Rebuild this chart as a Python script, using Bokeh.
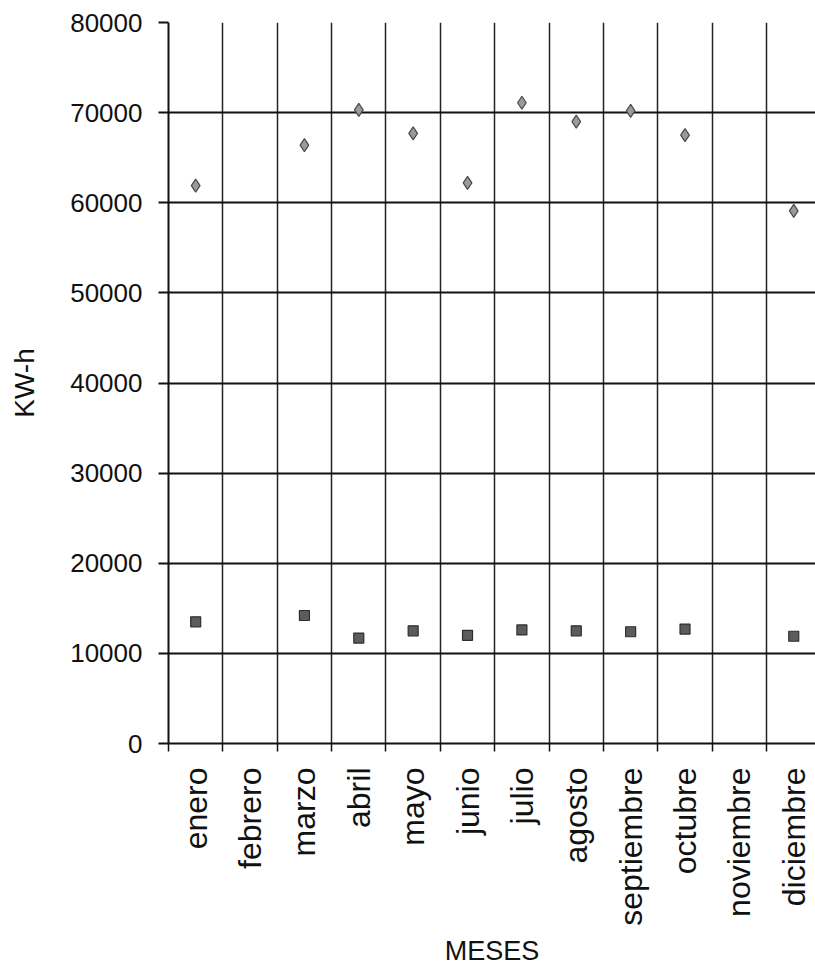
import math
from bokeh.plotting import figure
from bokeh.models import ColumnDataSource, FixedTicker, Range1d
from bokeh.embed import file_html
from bokeh.resources import INLINE

# Monthly energy readings (KW-h); February and November have no reading
meses = ["enero", "febrero", "marzo", "abril", "mayo", "junio", "julio",
         "agosto", "septiembre", "octubre", "noviembre", "diciembre"]
consumo_alto = [61900, float("nan"), 66400, 70300, 67700, 62200, 71100,
                69000, 70200, 67500, float("nan"), 59100]
consumo_bajo = [13500, float("nan"), 14200, 11700, 12500, 12000, 12600,
                12500, 12400, 12700, float("nan"), 11900]
y_ticks = [0, 10000, 20000, 30000, 40000, 50000, 60000, 70000, 80000]

n = len(meses)
centros = [i + 0.5 for i in range(n)]
limites = list(range(n + 1))

src = ColumnDataSource(data=dict(x=centros, alto=consumo_alto, bajo=consumo_bajo))

FONT = "Liberation Sans"
INK = "#111111"

p = figure(width=815, height=971,
           x_range=Range1d(0, 11.9), y_range=Range1d(0, 80000),
           output_backend="svg", toolbar_location=None,
           min_border_left=168, min_border_right=0,
           min_border_top=22, min_border_bottom=228,
           background_fill_color="white", border_fill_color="white")
p.outline_line_color = None

# y axis
p.yaxis.ticker = FixedTicker(ticks=y_ticks, minor_ticks=[])
p.yaxis.axis_label = "KW-h"
p.yaxis.axis_label_text_font = FONT
p.yaxis.axis_label_text_font_size = "28px"
p.yaxis.axis_label_text_font_style = "normal"
p.yaxis.axis_label_text_color = INK
p.yaxis.axis_label_standoff = 27
p.yaxis.major_label_text_font = FONT
p.yaxis.major_label_text_font_size = "26px"
p.yaxis.major_label_text_color = INK
p.yaxis.major_label_standoff = 16
p.yaxis.major_tick_out = 10
p.yaxis.major_tick_in = 0
p.yaxis.major_tick_line_width = 2
p.yaxis.major_tick_line_color = INK
p.yaxis.minor_tick_line_color = None
p.yaxis.axis_line_color = INK
p.yaxis.axis_line_width = 2

# x axis: labels at month centres, small ticks at month boundaries
p.xaxis.ticker = FixedTicker(ticks=centros, minor_ticks=limites)
p.xaxis.major_label_overrides = {c: m for c, m in zip(centros, meses)}
p.xaxis.major_label_orientation = math.pi / 2
p.xaxis.major_label_text_font = FONT
p.xaxis.major_label_text_font_size = "32px"
p.xaxis.major_label_text_color = INK
p.xaxis.major_label_standoff = 16
p.xaxis.major_tick_out = 0
p.xaxis.major_tick_in = 0
p.xaxis.minor_tick_out = 8
p.xaxis.minor_tick_in = 0
p.xaxis.minor_tick_line_width = 1.5
p.xaxis.minor_tick_line_color = INK
p.xaxis.axis_line_color = INK
p.xaxis.axis_line_width = 2
p.xaxis.axis_label = "MESES"
p.xaxis.axis_label_text_font = FONT
p.xaxis.axis_label_text_font_size = "27px"
p.xaxis.axis_label_text_font_style = "normal"
p.xaxis.axis_label_text_color = INK
p.xaxis.axis_label_standoff = 7

# grid lines
p.ygrid.ticker = FixedTicker(ticks=y_ticks)
p.ygrid.grid_line_color = INK
p.ygrid.grid_line_width = 2
p.xgrid.ticker = FixedTicker(ticks=limites)
p.xgrid.grid_line_color = "#222222"
p.xgrid.grid_line_width = 1.5

# series
p.scatter("x", "alto", source=src, marker="diamond", size=13,
          fill_color="#9a9a9a", line_color="#4a4a4a", line_width=1.2)
p.scatter("x", "bajo", source=src, marker="square", size=10,
          fill_color="#5c5c5c", line_color="#2e2e2e", line_width=1.2)

open("out.html", "w").write(file_html(p, INLINE))
